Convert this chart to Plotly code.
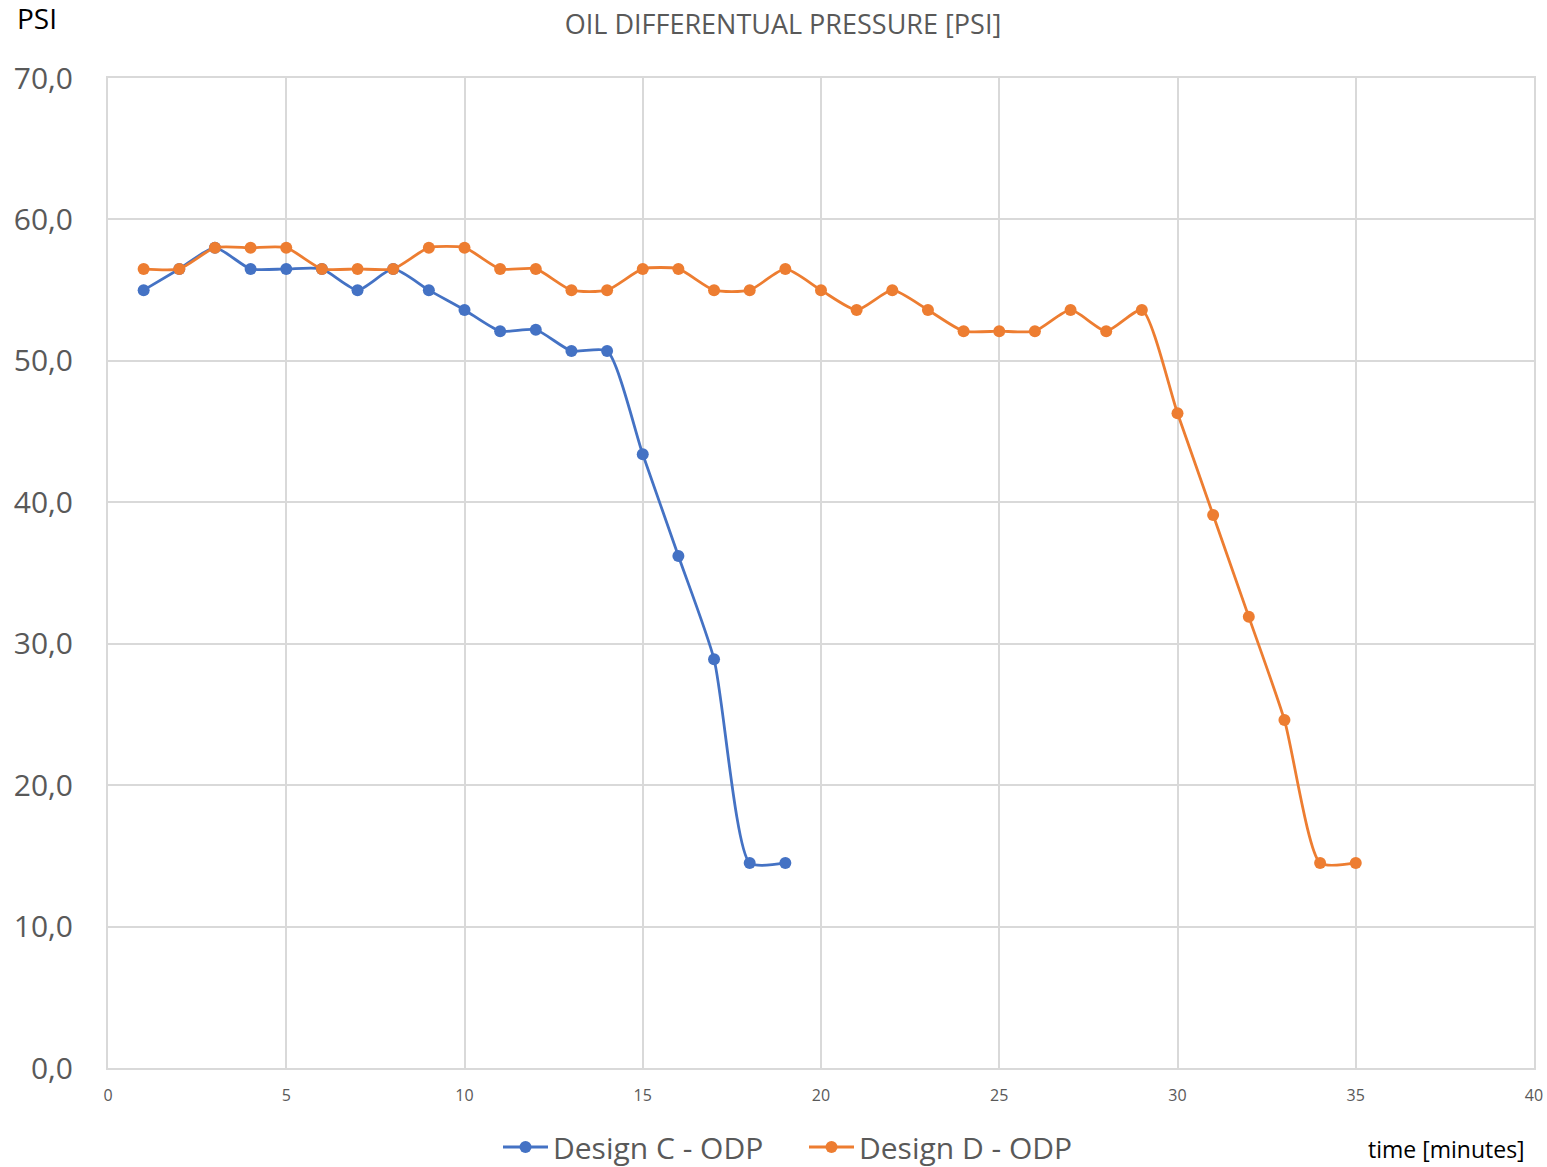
import plotly.graph_objects as go

# Oil differential pressure readings (PSI) per minute
time_c = list(range(1, 20))
design_c = [55.0, 56.5, 58.0, 56.5, 56.5, 56.5, 55.0, 56.5, 55.0, 53.6,
            52.1, 52.2, 50.7, 50.7, 43.4, 36.2, 28.9, 14.5, 14.5]

time_d = list(range(1, 36))
design_d = [56.5, 56.5, 58.0, 58.0, 58.0, 56.5, 56.5, 56.5, 58.0, 58.0,
            56.5, 56.5, 55.0, 55.0, 56.5, 56.5, 55.0, 55.0, 56.5, 55.0,
            53.6, 55.0, 53.6, 52.1, 52.1, 52.1, 53.6, 52.1, 53.6, 46.3,
            39.1, 31.9, 24.6, 14.5, 14.5]

BLUE = "#4472C4"
ORANGE = "#ED7D31"
GRID = "#D9D9D9"
TEXT = "#595959"
FONT = "Open Sans"

fig = go.Figure()
fig.add_trace(go.Scatter(
    x=time_c, y=design_c, name="Design C - ODP", mode="lines+markers",
    line=dict(color=BLUE, width=2.8, shape="spline", smoothing=0.6),
    marker=dict(color=BLUE, size=12),
))
fig.add_trace(go.Scatter(
    x=time_d, y=design_d, name="Design D - ODP", mode="lines+markers",
    line=dict(color=ORANGE, width=2.8, shape="spline", smoothing=0.6),
    marker=dict(color=ORANGE, size=12),
))

fig.update_layout(
    width=1547, height=1167,
    margin=dict(l=108, r=13, t=78, b=99, autoexpand=False),
    paper_bgcolor="white", plot_bgcolor="white",
    separators=",.",
    font=dict(family=FONT, color=TEXT),
    title=dict(text="OIL DIFFERENTUAL PRESSURE [PSI]", x=783 / 1547, xanchor="center",
               y=1 - 25 / 1167, yanchor="middle",
               font=dict(size=27, color=TEXT, family=FONT)),
    showlegend=True,
    legend=dict(orientation="h", x=(498 - 108) / 1426, xanchor="left",
                y=-(1147 - 1068) / 990, yanchor="middle",
                font=dict(size=30, color=TEXT, family=FONT),
                entrywidth=246, entrywidthmode="pixels", itemwidth=45,
                bgcolor="rgba(0,0,0,0)"),
    xaxis=dict(range=[0, 40], tickvals=list(range(0, 41, 5)),
               showgrid=True, gridcolor=GRID, gridwidth=2,
               showline=True, linecolor=GRID, linewidth=2, mirror=True,
               zeroline=False, ticks="", ticklabelstandoff=12,
               tickfont=dict(size=16, color=TEXT, family=FONT)),
    yaxis=dict(range=[0, 70], tickvals=list(range(0, 71, 10)), tickformat=".1f",
               showgrid=True, gridcolor=GRID, gridwidth=2,
               showline=True, linecolor=GRID, linewidth=2, mirror=True,
               zeroline=False, ticks="", ticklabelstandoff=27,
               tickfont=dict(size=30, color=TEXT, family=FONT)),
)

fig.add_annotation(text="PSI", xref="paper", yref="paper",
                   x=-93 / 1426, xanchor="left", y=1 + (78 - 18) / 990, yanchor="middle",
                   showarrow=False, font=dict(size=28, color="#000000", family=FONT))
fig.add_annotation(text="time [minutes]", xref="paper", yref="paper",
                   x=(1527 - 108) / 1426, xanchor="right", y=-(1149 - 1068) / 990, yanchor="middle",
                   showarrow=False, font=dict(size=23, color="#000000", family=FONT))

fig.write_html("out.html")
